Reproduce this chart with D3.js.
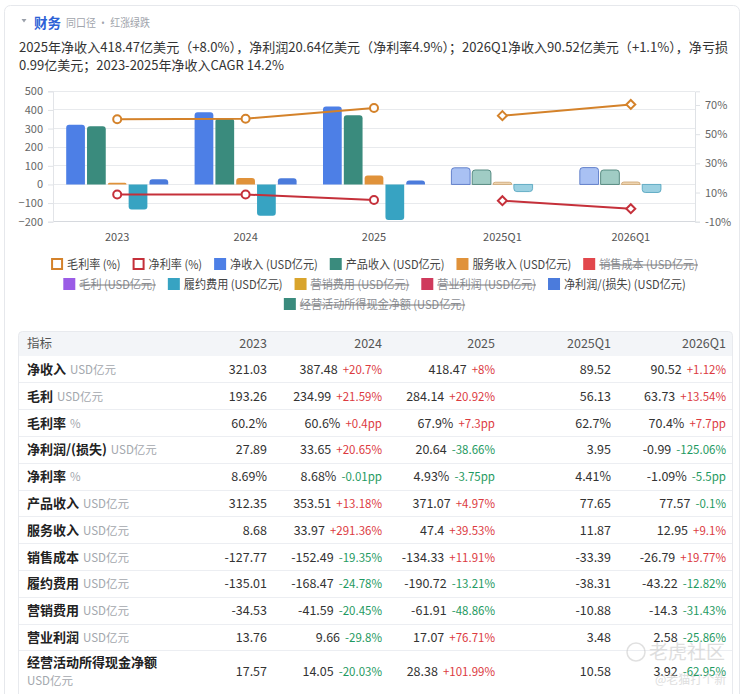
<!DOCTYPE html>
<html><head><meta charset="utf-8">
<script src="https://cdn.jsdelivr.net/npm/d3@7/dist/d3.min.js"></script>
<style>
html,body{margin:0;padding:0;background:#fff;}
svg{display:block;font-family:"Noto Sans CJK SC","Noto Sans",sans-serif;}
</style></head>
<body><svg id="c" width="745" height="694"></svg>
<script>
// ---------- data ----------
const categories = ['2023','2024','2025','2025Q1','2026Q1'];
const netRevenue = [321.03, 387.48, 418.47, 89.52, 90.52];
const grossProfit = [193.26, 234.99, 284.14, 56.13, 63.73];
const grossMargin = [60.2, 60.6, 67.9, 62.7, 70.4];
const netIncome = [27.89, 33.65, 20.64, 3.95, -0.99];
const netMargin = [8.69, 8.68, 4.93, 4.41, -1.09];
const productRevenue = [312.35, 353.51, 371.07, 77.65, 77.57];
const serviceRevenue = [8.68, 33.97, 47.4, 11.87, 12.95];
const costOfSales = [-127.77, -152.49, -134.33, -33.39, -26.79];
const fulfillment = [-135.01, -168.47, -190.72, -38.31, -43.22];
const marketing = [-34.53, -41.59, -61.91, -10.88, -14.3];
const operatingIncome = [13.76, 9.66, 17.07, 3.48, 2.58];
const operatingCashFlow = [17.57, 14.05, 28.38, 10.58, 3.92];

const netRevenueChg = [null,'+20.7%','+8%',null,'+1.12%'];
const grossProfitChg = [null,'+21.59%','+20.92%',null,'+13.54%'];
const grossMarginChg = [null,'+0.4pp','+7.3pp',null,'+7.7pp'];
const netIncomeChg = [null,'+20.65%','-38.66%',null,'-125.06%'];
const netMarginChg = [null,'-0.01pp','-3.75pp',null,'-5.5pp'];
const productChg = [null,'+13.18%','+4.97%',null,'-0.1%'];
const serviceChg = [null,'+291.36%','+39.53%',null,'+9.1%'];
const costChg = [null,'-19.35%','+11.91%',null,'+19.77%'];
const fulfillChg = [null,'-24.78%','-13.21%',null,'-12.82%'];
const marketingChg = [null,'-20.45%','-48.86%',null,'-31.43%'];
const opIncChg = [null,'-29.8%','+76.71%',null,'-25.86%'];
const ocfChg = [null,'-20.03%','+101.99%',null,'-62.95%'];

const leftTicks = [-200,-100,0,100,200,300,400,500];
const rightTicks = [-10,10,30,50,70];
const forecastStart = 3;

const titleText = '财务';
const subTitle = '同口径 · 红涨绿跌';
const summaryLines = ['2025年净收入418.47亿美元（+8.0%），净利润20.64亿美元（净利率4.9%）；2026Q1净收入90.52亿美元（+1.1%），净亏损',
                      '0.99亿美元；2023-2025年净收入CAGR 14.2%'];

// ---------- layout ----------
const svg = d3.select('#c');
const L = 53, R = 695, T = 91.3, B = 221.7;

svg.append('rect').attr('x',4.5).attr('y',5.5).attr('width',735).attr('height',720)
  .attr('rx',6).attr('fill','#fff').attr('stroke','#e6e8ec');

// header
svg.append('path').attr('d','M21.5,19 L26.5,19 L24,22.5 Z').attr('fill','#9aa0aa');
svg.append('text').attr('x',34).attr('y',27.5).attr('font-size',13.5).attr('font-weight','bold')
  .attr('fill','#2d62d6').text(titleText);
svg.append('text').attr('x',66).attr('y',27).attr('font-size',11.5).attr('fill','#a0a4ab')
  .attr('textLength',84).attr('lengthAdjust','spacingAndGlyphs').text(subTitle);
svg.append('text').attr('x',19).attr('y',51.5).attr('font-size',13).attr('fill','#333')
  .attr('textLength',709).attr('lengthAdjust','spacingAndGlyphs').text(summaryLines[0]);
svg.append('text').attr('x',19).attr('y',69.5).attr('font-size',13).attr('fill','#333').text(summaryLines[1]);

// scales
const x = d3.scaleBand().domain(categories).range([L,R]);
const yL = d3.scaleLinear().domain([-200,500]).range([B,T]);
const yR = d3.scaleLinear().domain([-10,79.4]).range([B,T]);

// grid
const g = svg.append('g');
g.selectAll('line.grid').data(leftTicks).join('line')
  .attr('x1',L).attr('x2',R).attr('y1',d=>yL(d)).attr('y2',d=>yL(d))
  .attr('stroke',d=>d===-200?'#d6d9de':'#e8eaed').attr('stroke-width',1)
  .attr('shape-rendering','crispEdges');

const axL = d3.axisLeft(yL).tickValues(leftTicks).tickSize(5).tickPadding(5);
const gl = svg.append('g').attr('transform',`translate(${L},0)`).call(axL);
gl.select('.domain').attr('stroke','#e2e4e8');
gl.selectAll('.tick line').attr('stroke','#dfe2e6');
gl.selectAll('.tick text').attr('fill','#666').attr('font-size',11).attr('font-family','"Noto Sans CJK SC",sans-serif');

const axR = d3.axisRight(yR).tickValues(rightTicks).tickFormat(d=>d+'%').tickSize(5).tickPadding(5);
const gr = svg.append('g').attr('transform',`translate(${R},0)`).call(axR);
gr.select('.domain').attr('stroke','#dfe2e6');
gr.selectAll('.tick line').attr('stroke','#dfe2e6');
gr.selectAll('.tick text').attr('fill','#666').attr('font-size',11).attr('font-family','"Noto Sans CJK SC",sans-serif');

const axB = d3.axisBottom(x).tickSize(0).tickPadding(12);
const gb = svg.append('g').attr('transform',`translate(0,${B})`).call(axB);
gb.select('.domain').remove();
gb.selectAll('.tick text').attr('fill','#555').attr('font-size',11).attr('font-family','"Noto Sans CJK SC",sans-serif');

// bars
const barSeries = [
  {key:'净收入', data:netRevenue, color:'#4d7fe6', light:'#a9c1f3', stroke:'#4a6cc0'},
  {key:'产品收入', data:productRevenue, color:'#3a8b7d', light:'#a0ccc4', stroke:'#3e776d'},
  {key:'服务收入', data:serviceRevenue, color:'#e0923a', light:'#f0d8b4', stroke:'#c9a06c'},
  {key:'履约费用', data:fulfillment, color:'#37a3c2', light:'#9bd0e1', stroke:'#4a9fbb'},
  {key:'净利润', data:netIncome, color:'#4b7bdc', light:'#a9c1f3', stroke:'#4a6cc0'}
];
const xs = d3.scaleBand().domain(barSeries.map(s=>s.key)).range([-51,51]).paddingInner(0.1);

function barPath(x0,w,y0,y1){
  const h = Math.abs(y1-y0);
  const r = Math.min(3, h, w/2);
  if (y1 < y0){
    return `M${x0},${y0} L${x0},${y1+r} Q${x0},${y1} ${x0+r},${y1} L${x0+w-r},${y1} Q${x0+w},${y1} ${x0+w},${y1+r} L${x0+w},${y0} Z`;
  } else {
    return `M${x0},${y0} L${x0},${y1-r} Q${x0},${y1} ${x0+r},${y1} L${x0+w-r},${y1} Q${x0+w},${y1} ${x0+w},${y1-r} L${x0+w},${y0} Z`;
  }
}
const bg = svg.append('g');
barSeries.forEach(s=>{
  bg.selectAll(null).data(s.data.map((v,i)=>({v,i})).filter(d=>Math.abs(yL(d.v)-yL(0))>=1.2)).join('path')
    .attr('d',d=>{
      const cx = x(categories[d.i]) + x.bandwidth()/2 + xs(s.key);
      return barPath(cx, xs.bandwidth(), yL(0), yL(d.v));
    })
    .attr('fill',d=>d.i>=forecastStart?s.light:s.color)
    .attr('stroke',d=>d.i>=forecastStart?s.stroke:'none')
    .attr('stroke-width',0.8);
});

// lines
const lineSeries = [
  {key:'毛利率', data:grossMargin, color:'#d4822a'},
  {key:'净利率', data:netMargin, color:'#c5303a'}
];
const cx = i => x(categories[i]) + x.bandwidth()/2;
const line = d3.line().x(d=>cx(d.i)).y(d=>yR(d.v));
lineSeries.forEach(s=>{
  const pts = s.data.map((v,i)=>({v,i}));
  const a = pts.filter(p=>p.i<forecastStart), b = pts.filter(p=>p.i>=forecastStart);
  [a,b].forEach(seg=>{
    svg.append('path').attr('d',line(seg)).attr('fill','none').attr('stroke',s.color).attr('stroke-width',2);
  });
  svg.selectAll(null).data(a).join('circle').attr('cx',d=>cx(d.i)).attr('cy',d=>yR(d.v)).attr('r',4)
    .attr('fill','#fff').attr('stroke',s.color).attr('stroke-width',2);
  svg.selectAll(null).data(b).join('path')
    .attr('d',d=>{const X=cx(d.i),Y=yR(d.v),k=4.5;return `M${X},${Y-k} L${X+k},${Y} L${X},${Y+k} L${X-k},${Y} Z`;})
    .attr('fill','#fff').attr('stroke',s.color).attr('stroke-width',2);
});

// legend
const legendRows = [
  [{t:'毛利率 (%)',c:'#d4822a',o:true},{t:'净利率 (%)',c:'#c5303a',o:true},{t:'净收入 (USD亿元)',c:'#4d7fe6'},{t:'产品收入 (USD亿元)',c:'#3a8b7d'},{t:'服务收入 (USD亿元)',c:'#e0923a'},{t:'销售成本 (USD亿元)',c:'#e2474c',off:true}],
  [{t:'毛利 (USD亿元)',c:'#9b5ce6',off:true},{t:'履约费用 (USD亿元)',c:'#37a3c2'},{t:'营销费用 (USD亿元)',c:'#d9a42c',off:true},{t:'营业利润 (USD亿元)',c:'#cf3a5c',off:true},{t:'净利润/(损失) (USD亿元)',c:'#4b7bdc'}],
  [{t:'经营活动所得现金净额 (USD亿元)',c:'#3a8b7d',off:true}]
];
const legY = [265,285,305];
const legCenter = 374.5;
legendRows.forEach((row,ri)=>{
  const lg = svg.append('g');
  let xx = 0;
  row.forEach(it=>{
    const ig = lg.append('g').attr('transform',`translate(${xx},0)`);
    if (it.o) ig.append('rect').attr('x',1).attr('y',-6).attr('width',10).attr('height',10).attr('fill','#fff').attr('stroke',it.c).attr('stroke-width',2);
    else ig.append('rect').attr('x',0).attr('y',-7).attr('width',12).attr('height',12).attr('fill',it.c);
    const t = ig.append('text').attr('x',16).attr('y',4).attr('font-size',12)
      .attr('fill',it.off?'#8a8d93':'#444').text(it.t);
    const w0 = t.node().getComputedTextLength();
    const w = w0*0.925;
    t.attr('textLength',w).attr('lengthAdjust','spacingAndGlyphs');
    if (it.off) ig.append('line').attr('x1',16).attr('x2',16+w).attr('y1',0).attr('y2',0).attr('stroke','#777').attr('stroke-width',1);
    xx += 16 + w + 12;
  });
  const total = xx - 12;
  lg.attr('transform',`translate(${legCenter-total/2},${legY[ri]})`);
});

// table
const rows = [
  {label:'净收入', unit:'USD亿元', vals:netRevenue, chg:netRevenueChg, fmt:v=>v},
  {label:'毛利', unit:'USD亿元', vals:grossProfit, chg:grossProfitChg, fmt:v=>v},
  {label:'毛利率', unit:'%', vals:grossMargin, chg:grossMarginChg, fmt:v=>v.toFixed(1)+'%'},
  {label:'净利润/(损失)', unit:'USD亿元', vals:netIncome, chg:netIncomeChg, fmt:v=>v},
  {label:'净利率', unit:'%', vals:netMargin, chg:netMarginChg, fmt:v=>v+'%'},
  {label:'产品收入', unit:'USD亿元', vals:productRevenue, chg:productChg, fmt:v=>v},
  {label:'服务收入', unit:'USD亿元', vals:serviceRevenue, chg:serviceChg, fmt:v=>v},
  {label:'销售成本', unit:'USD亿元', vals:costOfSales, chg:costChg, fmt:v=>v},
  {label:'履约费用', unit:'USD亿元', vals:fulfillment, chg:fulfillChg, fmt:v=>v},
  {label:'营销费用', unit:'USD亿元', vals:marketing, chg:marketingChg, fmt:v=>v},
  {label:'营业利润', unit:'USD亿元', vals:operatingIncome, chg:opIncChg, fmt:v=>v},
  {label:'经营活动所得现金净额', unit:'USD亿元', vals:operatingCashFlow, chg:ocfChg, fmt:v=>v, two:true}
];
const colRight = [267, 382, 495, 611, 726];
const tTop = 331.5, hdrH = 24.5, rowH = 26.8, tBot = 692;
const tg = svg.append('g');
tg.append('path').attr('d',`M18.5,${tTop+hdrH} L18.5,${tTop+4} Q18.5,${tTop} 22.5,${tTop} L728.5,${tTop} Q732.5,${tTop} 732.5,${tTop+4} L732.5,${tTop+hdrH} Z`).attr('fill','#f3f5f8');
tg.append('rect').attr('x',18.5).attr('y',tTop).attr('width',714).attr('height',tBot-tTop+6).attr('rx',4)
  .attr('fill','none').attr('stroke','#e8eaee');
tg.append('text').attr('x',27).attr('y',tTop+16.5).attr('font-size',12.5).attr('fill','#555').text('指标');
categories.forEach((c,i)=>{
  tg.append('text').attr('x',colRight[i]).attr('y',tTop+16.5).attr('text-anchor','end')
    .attr('font-size',12.5).attr('fill','#555').text(c);
});
rows.forEach((r,ri)=>{
  const top = tTop + hdrH + ri*rowH;
  const h = r.two ? tBot - top : rowH;
  const mid = top + h/2;
  if (ri>0) tg.append('line').attr('x1',19).attr('x2',732).attr('y1',top).attr('y2',top).attr('stroke','#eceef2').attr('shape-rendering','crispEdges');
  if (r.two){
    tg.append('text').attr('x',27).attr('y',mid-4).attr('font-size',13).attr('font-weight','bold').attr('fill','#222').text(r.label);
    tg.append('text').attr('x',27).attr('y',mid+14).attr('font-size',11.5).attr('fill','#a3a7ad').text(r.unit);
  } else {
    const t = tg.append('text').attr('x',27).attr('y',mid+4.5);
    t.append('tspan').attr('font-size',13).attr('font-weight','bold').attr('fill','#222').text(r.label);
    t.append('tspan').attr('dx',4).attr('font-size',11.5).attr('fill','#a3a7ad').text(r.unit);
  }
  r.vals.forEach((v,i)=>{
    const t = tg.append('text').attr('x',colRight[i]).attr('y',mid+4.5).attr('text-anchor','end');
    t.append('tspan').attr('font-size',12.5).attr('fill','#333').text(r.fmt(v));
    const c = r.chg[i];
    if (c){
      t.append('tspan').attr('dx',5).attr('font-size',11.5)
        .attr('fill',c[0]==='+'?'#dc3b3f':'#1f9a62').text(c);
    }
  });
});

// watermark
const wm = svg.append('g').attr('opacity',0.55);
wm.append('circle').attr('cx',636).attr('cy',652).attr('r',9).attr('fill','none').attr('stroke','#c8c8c8').attr('stroke-width',1.5);
wm.append('text').attr('x',649).attr('y',659).attr('font-size',19).attr('fill','#c4c4c4').text('老虎社区');
wm.append('text').attr('x',655).attr('y',684).attr('font-size',12).attr('fill','#c4c4c4').text('@老猫打个新');
</script></body></html>
